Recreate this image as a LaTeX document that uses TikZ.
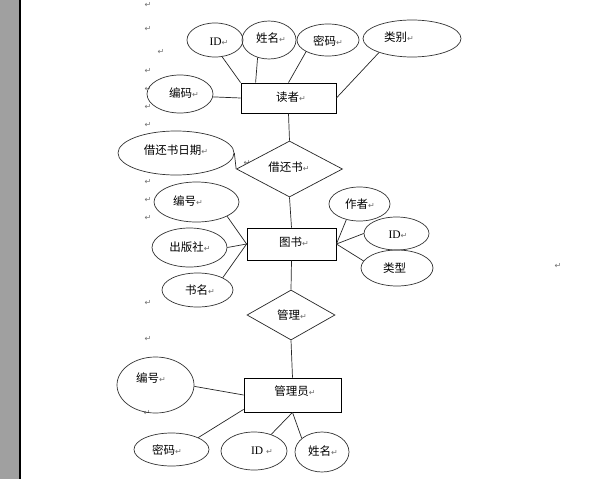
\documentclass[tikz,border=0pt]{standalone}
\usepackage{fontspec}
\usetikzlibrary{shapes.geometric}
\setmainfont{Noto Sans CJK SC}
\newfontfamily\markfont{DejaVu Sans}
\newfontfamily\latinfont{Liberation Serif}
\definecolor{retgray}{HTML}{707070}
\definecolor{barfill}{HTML}{A0A0A0}
\newcommand{\rmk}{{\markfont\fontsize{8}{8}\selectfont\color{retgray}↵}}
\begin{document}
\begin{tikzpicture}[x=1pt,y=-1pt,
  ell/.style={draw=black!80, ellipse, line width=0.7pt, inner sep=0pt},
  ent/.style={draw=black, rectangle, line width=0.8pt, inner sep=0pt},
  rel/.style={draw=black!85, diamond, line width=0.7pt, inner sep=0pt},
  txt/.style={inner sep=0pt, font=\fontsize{11.5}{12}\selectfont},
  ret/.style={inner sep=0pt, text=retgray, font=\markfont\fontsize{8}{8}\selectfont},
  conn/.style={line width=0.7pt, draw=black!85}]
\useasboundingbox (0,0) rectangle (599,479);
\fill[white] (0,0) rectangle (599,479);
\fill[barfill] (0,0) rectangle (19,479);
\draw[line width=1.2pt] (20,0) -- (20,479);

% paragraph marks
\foreach \px/\py [count=\i] in {148/5,148/29,161/52,148/71,148/89,148/107,148/125,148/182,148/200,148/218,148/303,148/339,147/413,247/163,558/266}
  \node[ret] (ret\i) at (\px,\py) {↵};

% reader
\node[ent, minimum width=95pt, minimum height=30pt] (reader) at (288.5,98) {};
\node[txt] (treader) at (291,97) {读者\rmk};
\node[ell, minimum width=56pt, minimum height=34pt] (rid) at (215,40) {};
\node[txt] (trid) at (219,42) {\latinfont ID\rmk};
\node[ell, minimum width=54pt, minimum height=38pt] (rname) at (269,40) {};
\node[txt] (trname) at (271,38) {姓名\rmk};
\node[ell, minimum width=62pt, minimum height=32pt] (rpwd) at (328,40) {};
\node[txt] (trpwd) at (328,41) {密码\rmk};
\node[ell, minimum width=98pt, minimum height=37pt] (rcat) at (412,38.5) {};
\node[txt] (trcat) at (399,37) {类别\rmk};
\node[ell, minimum width=66pt, minimum height=38pt] (rcode) at (180,94) {};
\node[txt] (trcode) at (184,93) {编码\rmk};

\draw[conn] (rid.-67) -- (reader.north west);
\draw[conn] (rname.-123) -- ([xshift=15pt]reader.north west);
\draw[conn] (rpwd.-152) -- (reader.north);
\draw[conn] (rcat.-157) -- (reader.east);
\draw[conn] (rcode.-5) -- (reader.west);

% borrow
\node[rel, minimum width=106pt, minimum height=56pt] (borrow) at (289.5,169) {};
\node[txt] (tborrow) at (289,167) {借还书\rmk};
\node[ell, minimum width=116pt, minimum height=44pt] (bdate) at (176,153) {};
\node[txt] (tbdate) at (176,150) {借还书日期\rmk};
\draw[conn] (reader.south) -- (borrow.north);
\draw[conn] (bdate.east) -- (borrow.west);

% book
\node[ent, minimum width=89pt, minimum height=32pt] (book) at (291.5,244) {};
\node[txt] (tbook) at (294,242) {图书\rmk};
\draw[conn] (borrow.south) -- (book.north);
\node[ell, minimum width=85pt, minimum height=40pt] (bno) at (196.5,202) {};
\node[txt] (tbno) at (188,201) {编号\rmk};
\node[ell, minimum width=75pt, minimum height=39pt] (bpub) at (189.5,247.5) {};
\node[txt] (tbpub) at (190,247) {出版社\rmk};
\node[ell, minimum width=71pt, minimum height=34pt] (btitle) at (197.5,290) {};
\node[txt] (tbtitle) at (200,290) {书名\rmk};
\node[ell, minimum width=61pt, minimum height=34pt] (bauth) at (359.5,204) {};
\node[txt] (tbauth) at (360,204) {作者\rmk};
\node[ell, minimum width=65pt, minimum height=33pt] (bid) at (396.5,233.5) {};
\node[txt] (tbid) at (398,235) {\latinfont ID\rmk};
\node[ell, minimum width=72pt, minimum height=36pt] (btype) at (397,268) {};
\node[txt] (tbtype) at (394.5,268) {类型};
\draw[conn] (bno.-25) -- (book.west);
\draw[conn] (bpub.east) -- (book.west);
\draw[conn] (btitle.26) -- (book.west);
\draw[conn] (book.east) -- (bauth.-130);
\draw[conn] (book.east) -- (bid.west);
\draw[conn] (book.east) -- (btype.168);

% manage
\node[rel, minimum width=88pt, minimum height=50pt] (manage) at (291,315) {};
\node[txt] (tmanage) at (292,315) {管理\rmk};
\draw[conn] (book.south) -- (manage.north);

% admin
\node[ent, minimum width=97pt, minimum height=34pt] (admin) at (292.5,395) {};
\node[txt] (tadmin) at (295,391) {管理员\rmk};
\draw[conn] (manage.south) -- (admin.north);
\node[ell, minimum width=77pt, minimum height=56pt] (ano) at (155.5,385) {};
\node[txt] (tano) at (151,378) {编号\rmk};
\node[ell, minimum width=75pt, minimum height=33pt] (apwd) at (171.5,449.5) {};
\node[txt] (tapwd) at (167,450) {密码\rmk};
\node[ell, minimum width=66pt, minimum height=38pt] (aid) at (254,451) {};
\node[txt] (taid) at (262,451) {\latinfont ID \rmk};
\node[ell, minimum width=54pt, minimum height=40pt] (aname) at (322,452) {};
\node[txt] (taname) at (323,451) {姓名\rmk};
\draw[conn] (ano.-2) -- (admin.west);
\draw[conn] (apwd.24) -- ([yshift=3pt]admin.south west);
\draw[conn] (aid.44) -- (admin.south);
\draw[conn] (admin.south) -- (aname.146);
\end{tikzpicture}
\end{document}
